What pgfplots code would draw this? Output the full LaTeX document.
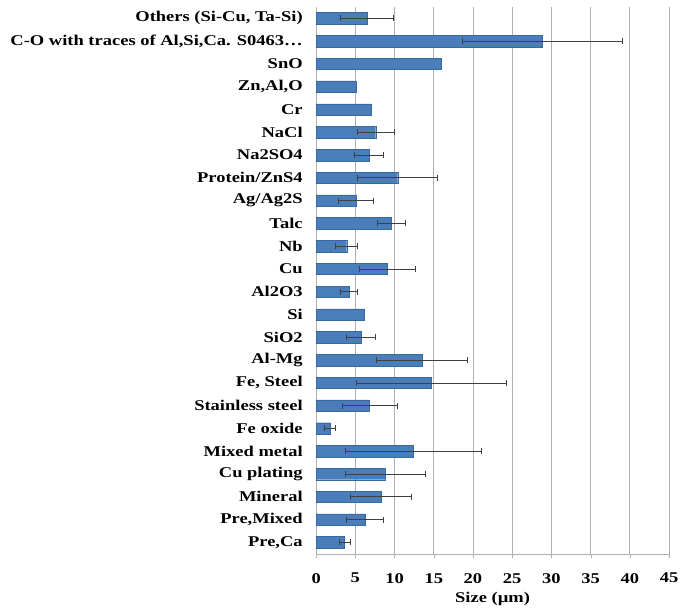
\documentclass[border=0pt]{standalone}
\usepackage{pgfplots}
\pgfplotsset{compat=1.18}
\usepackage{pgfplotstable}
\usepackage{fontspec}
\setmainfont{Liberation Serif}
\newfontfamily\widefont{Liberation Serif}[FakeStretch=1.24]
\definecolor{barblue}{HTML}{4A7EBB}
\definecolor{baredge}{HTML}{3A68A0}
\definecolor{gridgray}{HTML}{B0B0B0}
\definecolor{errgray}{HTML}{404040}

\pgfplotstableread{
y val err
23 6.5 3.4
22 28.8 10.2
21 16.0 0
20 5.1 0
19 7.05 0
18 7.6 2.4
17 6.75 1.85
16 10.4 5.1
15 5.06 2.2
14 9.6 1.8
13 3.9 1.4
12 9.1 3.6
11 4.2 1.1
10 6.1 0
9 5.7 1.8
8 13.5 5.8
7 14.7 9.6
6 6.8 3.5
5 1.8 0.7
4 12.4 8.7
3 8.8 5.1
2 8.3 3.9
1 6.2 2.4
0 3.6 0.7
}\bars

\pgfplotstableread{
y val err
23 6.5 3.4
22 28.8 10.2
18 7.6 2.4
17 6.75 1.85
16 10.4 5.1
15 5.06 2.2
14 9.6 1.8
13 3.9 1.4
12 9.1 3.6
11 4.2 1.1
9 5.7 1.8
8 13.5 5.8
7 14.7 9.6
6 6.8 3.5
5 1.8 0.7
4 12.4 8.7
3 8.8 5.1
2 8.3 3.9
1 6.2 2.4
0 3.6 0.7
}\errs

\begin{document}
\begin{tikzpicture}
\begin{axis}[
  at={(0,0)}, anchor=south west,
  width=355pt, height=550pt, scale only axis,
  xmin=0, xmax=45,
  ymin=-0.5, ymax=23.5,
  xtick={0,5,...,45},
  ytick={0,...,23},
  yticklabels={{Pre,Ca},{Pre,Mixed},Mineral,Cu plating,Mixed metal,Fe oxide,Stainless steel,{Fe, Steel},Al-Mg,SiO2,Si,Al2O3,Cu,Nb,Talc,Ag/Ag2S,Protein/ZnS4,Na2SO4,NaCl,Cr,{Zn,Al,O},SnO,{C-O with traces of Al,Si,Ca. S0463\ldots},{Others (Si-Cu, Ta-Si)}},
  minor ytick={-0.5,0.5,...,23.5},
  major tick length=4pt,
  minor tick length=4pt,
  tick align=outside,
  xtick style={draw=gridgray},
  ytick style={draw=none},
  minor tick style={draw=gridgray},
  axis x line*=bottom,
  axis y line*=left,
  axis line style={draw=gridgray, -},
  xmajorgrids,
  major grid style={draw=gridgray, line width=0.9pt},
  ticklabel style={font=\widefont\fontsize{15}{17}\selectfont\bfseries},
  /pgf/number format/assume math mode=true,
  xlabel={Size (µm)},
  xlabel style={font=\widefont\fontsize{15}{17}\selectfont\bfseries, yshift=-2pt},
  yticklabel style={xshift=-6pt},
  xticklabel style={yshift=-12pt},
]
\addplot[xbar, bar width=11.5pt, bar shift=0pt, fill=barblue, draw=baredge, line width=0.4pt]
  table[x=val, y=y] {\bars};
\addplot[draw=none, mark=none,
  error bars/.cd, x dir=both, x explicit,
  error bar style={draw=errgray, line width=0.7pt},
  error mark options={draw=errgray, line width=0.7pt, mark size=3pt, rotate=90}]
  table[x=val, y=y, x error=err] {\errs};
\end{axis}
\pgfresetboundingbox
\path (-318pt,-58pt) rectangle (366pt,557pt);
\end{tikzpicture}
\end{document}
